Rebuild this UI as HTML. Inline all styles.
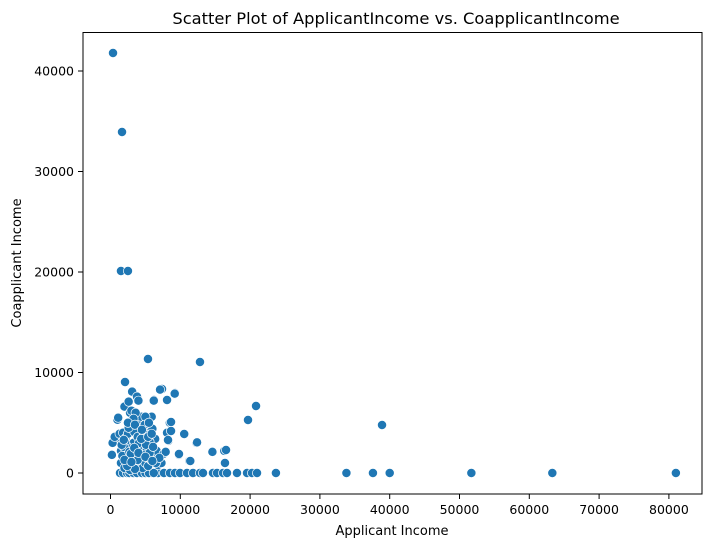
<!DOCTYPE html>
<html><head><meta charset="utf-8"><style>
html,body{margin:0;padding:0;background:#fff;}
svg{display:block;font-family:"DejaVu Sans","Liberation Sans",sans-serif;}
</style></head><body>
<svg id="chart" width="713" height="547" viewBox="0 0 713 547" xmlns="http://www.w3.org/2000/svg">
<text x="396" y="24" font-size="16.3" text-anchor="middle" fill="#000">Scatter Plot of ApplicantIncome vs. CoapplicantIncome</text>
<g id="points"></g>
<g id="axes"></g>
<rect x="83" y="32.5" width="619" height="461.5" fill="none" stroke="#000" stroke-width="1"/>
<text x="392" y="535" font-size="13" text-anchor="middle">Applicant Income</text>
<text transform="translate(21,263) rotate(-90)" font-size="13" text-anchor="middle">Coapplicant Income</text>
</svg>
<script>
const xTicks = [0,10000,20000,30000,40000,50000,60000,70000,80000];
const yTicks = [0,10000,20000,30000,40000];
const applicantIncome = [360,1650,1500,2500,5370,12820,20850,19700,38900,2080,7380,9240,6230,8100,
23700,33800,37600,40000,51700,63300,81000,
1360,1790,2360,3080,4230,4660,5800,6800,7660,8520,9240,9960,10960,11820,12820,13250,14680,15260,16120,16690,18120,19560,20270,20990,2700,3300,3800,4500,5000,5500,6200,
1000,1100,800,200,300,600,1300,1500,1800,2000,2200,2400,2600,2800,2700,3000,3100,3300,3500,3600,3800,4000,4100,4300,4500,4700,4900,5100,5300,5500,5700,5900,6000,6200,6400,6600,6800,7100,7300,7600,7900,8100,8300,8500,8700,9200,9800,10500,11300,12300,14600,16300,16400,16550,12400,11430,9810,10560,8670,8670,8240,
1500,2000,2300,2500,2900,3200,3400,3700,3900,4200,4400,4600,4800,5000,5200,5400,5600,5800,1700,2100,2600,3000,4000,4400,5000,3600,1900,2800,3500,6000,6500,7000,4000,3300,
1600,2200,2700,3100,3600,4100,4600,5100,5600,6100,1900,2400,2900,3400,3900,4400,4900,5400,5900,2000,3000,4000,5000,6000,2500,3500,4500,5500];
const coapplicantIncome = [41790,33930,20100,20100,11340,11040,6670,5270,4780,9050,8360,7960,7260,7260,
0,0,0,0,0,0,0,
0,0,0,0,0,0,0,0,0,0,0,0,0,0,0,0,0,0,0,0,0,0,0,0,0,0,0,0,0,0,0,
5300,5500,3500,1800,3000,3600,3900,2200,4000,6600,3500,1500,7100,6000,2800,4500,8100,3000,5700,1900,7600,2500,4200,1100,3300,5600,2000,3800,1500,4600,2800,5600,1700,7200,3400,2200,800,8300,1000,1900,2100,4000,3200,5000,4200,7900,1800,3900,1200,3000,2100,2200,1000,2290,3050,1190,1890,3880,4180,5070,3280,
1000,500,2700,3900,1200,2000,4100,800,3600,1500,2600,500,3900,1000,2400,700,3100,1300,1700,3100,4500,6200,5200,5600,5600,6000,2600,300,400,4400,1000,1500,7200,5400,
2800,1200,2100,1600,2300,3000,1800,2800,2000,2600,3300,700,1900,2500,1300,3400,4800,3600,3900,1300,1100,2000,1600,1200,5000,4800,4300,5000];

const X0=110.5, XS=69.8/10000, Y0=473, YS=100.5/10000;
const sx = v => X0 + v*XS;
const sy = v => Y0 - v*YS;
const NS="http://www.w3.org/2000/svg";
const pg=document.getElementById('points');
for(let i=0;i<applicantIncome.length;i++){
  const c=document.createElementNS(NS,'circle');
  c.setAttribute('cx',sx(applicantIncome[i]));
  c.setAttribute('cy',sy(coapplicantIncome[i]));
  c.setAttribute('r',4.6);
  c.setAttribute('fill','#1f77b4');
  c.setAttribute('stroke','#fff');
  c.setAttribute('stroke-width','0.7');
  
  
  pg.appendChild(c);
}
const ag=document.getElementById('axes');
xTicks.forEach(t=>{
  const x=sx(t);
  const l=document.createElementNS(NS,'line');
  l.setAttribute('x1',x);l.setAttribute('x2',x);l.setAttribute('y1',494);l.setAttribute('y2',499);
  l.setAttribute('stroke','#000');
  
  
  ag.appendChild(l);
  const tx=document.createElementNS(NS,'text');
  tx.setAttribute('x',x);tx.setAttribute('y',514);tx.setAttribute('font-size','12.5');tx.setAttribute('text-anchor','middle');
  tx.textContent=t;
  
  
  ag.appendChild(tx);
});
yTicks.forEach(t=>{
  const y=sy(t);
  const l=document.createElementNS(NS,'line');
  l.setAttribute('x1',78);l.setAttribute('x2',83);l.setAttribute('y1',y);l.setAttribute('y2',y);
  l.setAttribute('stroke','#000');
  
  
  ag.appendChild(l);
  const tx=document.createElementNS(NS,'text');
  tx.setAttribute('x',74);tx.setAttribute('y',y+4.5);tx.setAttribute('font-size','12.5');tx.setAttribute('text-anchor','end');
  tx.textContent=t;
  
  
  ag.appendChild(tx);
});
</script>
</body></html>
